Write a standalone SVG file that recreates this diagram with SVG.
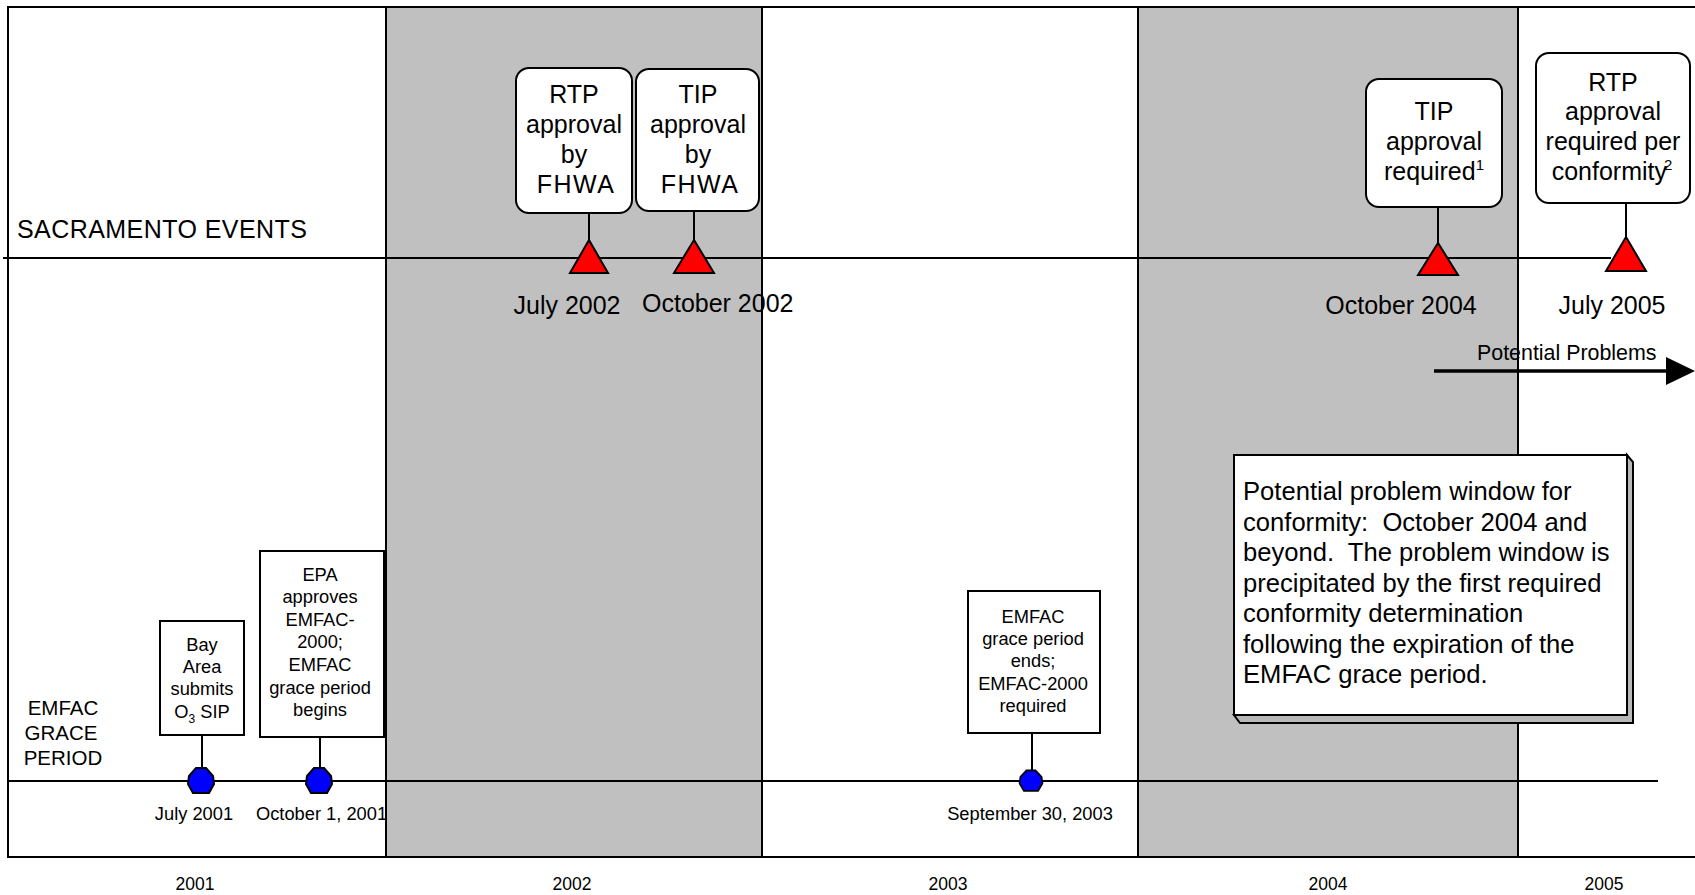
<svg xmlns="http://www.w3.org/2000/svg" width="1695" height="895" viewBox="0 0 1695 895">
<style>
text{font-family:"Liberation Sans",Arial,sans-serif;fill:#000}
.big{font-size:25px}
.note{font-size:25.6px}
.sm{font-size:18.3px}
.yr{font-size:17.5px}
.mid{text-anchor:middle}
.ln{stroke:#000;stroke-width:2;fill:none}
.box{fill:#fff;stroke:#000;stroke-width:2}
.tri{fill:#ff0000;stroke:#000;stroke-width:2;stroke-linejoin:miter}
.hex{fill:#0000ff;stroke:#000;stroke-width:2}
.gray{fill:#c0c0c0}
</style>
<defs>
<polygon id="mk" points="-5,-13 5,-13 12,-5 13,3 8,12 -8,12 -13,3 -12,-5"/>
</defs>
<rect x="0" y="0" width="1695" height="895" fill="#fff"/>
<text class="sm" x="256" y="820">October 1, 2001</text>
<g id="columns">
<rect class="gray" x="386" y="7" width="376" height="850"/>
<rect class="gray" x="1138" y="7" width="380" height="850"/>
</g>
<g id="frame">
<path class="ln" d="M1700,7 H8 V857 H1700"/>
</g>
<g id="labels-static">
<text class="big" x="17" y="238" textLength="290">SACRAMENTO EVENTS</text>
<text class="sm mid" style="font-size:20.5px" x="63" y="715">EMFAC</text>
<text class="sm mid" style="font-size:20.5px" x="61" y="740">GRACE</text>
<text class="sm mid" style="font-size:20.5px" x="63" y="765">PERIOD</text>
<text class="big" x="642" y="312">October 2002</text>
</g>
<g id="gridlines">
<line class="ln" x1="386" y1="7" x2="386" y2="857"/>
<line class="ln" x1="762" y1="7" x2="762" y2="857"/>
<line class="ln" x1="1138" y1="7" x2="1138" y2="857"/>
<line class="ln" x1="1518" y1="7" x2="1518" y2="857"/>
</g>
<g id="connectors">
<line class="ln" x1="3" y1="258" x2="1611" y2="258"/>
<line class="ln" x1="8" y1="781" x2="1658" y2="781"/>
<line class="ln" x1="589" y1="213" x2="589" y2="240"/>
<line class="ln" x1="694" y1="211" x2="694" y2="240"/>
<line class="ln" x1="1438" y1="207" x2="1438" y2="243"/>
<line class="ln" x1="1626" y1="203" x2="1626" y2="237"/>
<line class="ln" x1="202" y1="735" x2="202" y2="770"/>
<line class="ln" x1="320" y1="737" x2="320" y2="770"/>
<line class="ln" x1="1032" y1="733" x2="1032" y2="772"/>
<line x1="1434" y1="371" x2="1670" y2="371" stroke="#000" stroke-width="3.5"/>
<polygon points="1666,357 1695,371 1666,385" fill="#000"/>
</g>
<g id="years">
<text class="yr mid" x="195" y="890">2001</text>
<text class="yr mid" x="572" y="890">2002</text>
<text class="yr mid" x="948" y="890">2003</text>
<text class="yr mid" x="1328" y="890">2004</text>
<text class="yr mid" x="1604" y="890">2005</text>
</g>
<g id="rtp-fhwa">
<rect class="box" x="516" y="68" width="116" height="145" rx="13"/>
<text class="big mid" x="574" y="103">RTP</text>
<text class="big mid" x="574" y="132.5">approval</text>
<text class="big mid" x="574" y="162.5">by</text>
<text class="big mid" x="576" y="193" letter-spacing="1.5">FHWA</text>
<polygon class="tri" points="589,240 570,273 608,273"/>
<text class="big mid" x="567" y="314">July 2002</text>
</g>
<g id="tip-fhwa">
<rect class="box" x="636" y="69" width="123" height="142" rx="13"/>
<text class="big mid" x="698" y="103">TIP</text>
<text class="big mid" x="698" y="132.5">approval</text>
<text class="big mid" x="698" y="162.5">by</text>
<text class="big mid" x="700" y="193" letter-spacing="1.5">FHWA</text>
<polygon class="tri" points="694,240 674,273 714,273"/>
</g>
<g id="tip-required">
<rect class="box" x="1366" y="79" width="136" height="128" rx="13"/>
<text class="big mid" x="1434" y="120">TIP</text>
<text class="big mid" x="1434" y="150">approval</text>
<text class="big mid" x="1434" y="180">required<tspan font-size="15" dy="-10">1</tspan></text>
<polygon class="tri" points="1438,243 1418,275 1458,275"/>
<text class="big mid" x="1401" y="314">October 2004</text>
</g>
<g id="rtp-required">
<rect class="box" x="1536" y="53" width="154" height="150" rx="13"/>
<text class="big mid" x="1613" y="91">RTP</text>
<text class="big mid" x="1613" y="120">approval</text>
<text class="big mid" x="1613" y="150">required per</text>
<text class="big mid" x="1612" y="180">conformity<tspan font-size="15" dx="-3" dy="-10">2</tspan></text>
<polygon class="tri" points="1626,237 1606,271 1646,271"/>
<text class="big mid" x="1612" y="314">July 2005</text>
</g>
<g id="potential-problems">
<text x="1477" y="360" style="font-size:21.4px">Potential Problems</text>
</g>
<g id="bay-area">
<rect class="box" x="160" y="621" width="84" height="114"/>
<text class="sm mid" x="202" y="651">Bay</text>
<text class="sm mid" x="202" y="673">Area</text>
<text class="sm mid" x="202" y="695">submits</text>
<text class="sm mid" x="202" y="718">O<tspan font-size="12" dy="5">3</tspan><tspan dy="-5"> SIP</tspan></text>
<use href="#mk" class="hex" transform="translate(201,781)"/>
<text class="sm mid" x="194" y="820">July 2001</text>
</g>
<g id="epa">
<rect class="box" x="260" y="551" width="124" height="186"/>
<text class="sm mid" x="320" y="581">EPA</text>
<text class="sm mid" x="320" y="603">approves</text>
<text class="sm mid" x="320" y="626">EMFAC-</text>
<text class="sm mid" x="320" y="648">2000;</text>
<text class="sm mid" x="320" y="671">EMFAC</text>
<text class="sm mid" x="320" y="694">grace period</text>
<text class="sm mid" x="320" y="716">begins</text>
<use href="#mk" class="hex" transform="translate(319,781)"/>
</g>
<g id="emfac-ends">
<rect class="box" x="968" y="591" width="132" height="142"/>
<text class="sm mid" x="1033" y="623">EMFAC</text>
<text class="sm mid" x="1033" y="645">grace period</text>
<text class="sm mid" x="1033" y="667">ends;</text>
<text class="sm mid" x="1033" y="690">EMFAC-2000</text>
<text class="sm mid" x="1033" y="712">required</text>
<use href="#mk" class="hex" transform="translate(1031,781) scale(0.88,0.82)"/>
<text class="sm mid" x="1030" y="820">September 30, 2003</text>
</g>
<g id="note">
<polygon points="1627,455 1633,462 1633,723 1240,723 1234,715 1627,715" fill="#b8b8b8" stroke="#000" stroke-width="2"/>
<rect class="box" x="1234" y="455" width="393" height="260"/>
<text class="note" x="1243" y="500" xml:space="preserve">Potential problem window for</text>
<text class="note" x="1243" y="530.5" xml:space="preserve">conformity:  October 2004 and</text>
<text class="note" x="1243" y="561" xml:space="preserve">beyond.  The problem window is</text>
<text class="note" x="1243" y="591.5" xml:space="preserve">precipitated by the first required</text>
<text class="note" x="1243" y="622" xml:space="preserve">conformity determination</text>
<text class="note" x="1243" y="652.5" xml:space="preserve">following the expiration of the</text>
<text class="note" x="1243" y="683" xml:space="preserve">EMFAC grace period.</text>
</g>
</svg>
